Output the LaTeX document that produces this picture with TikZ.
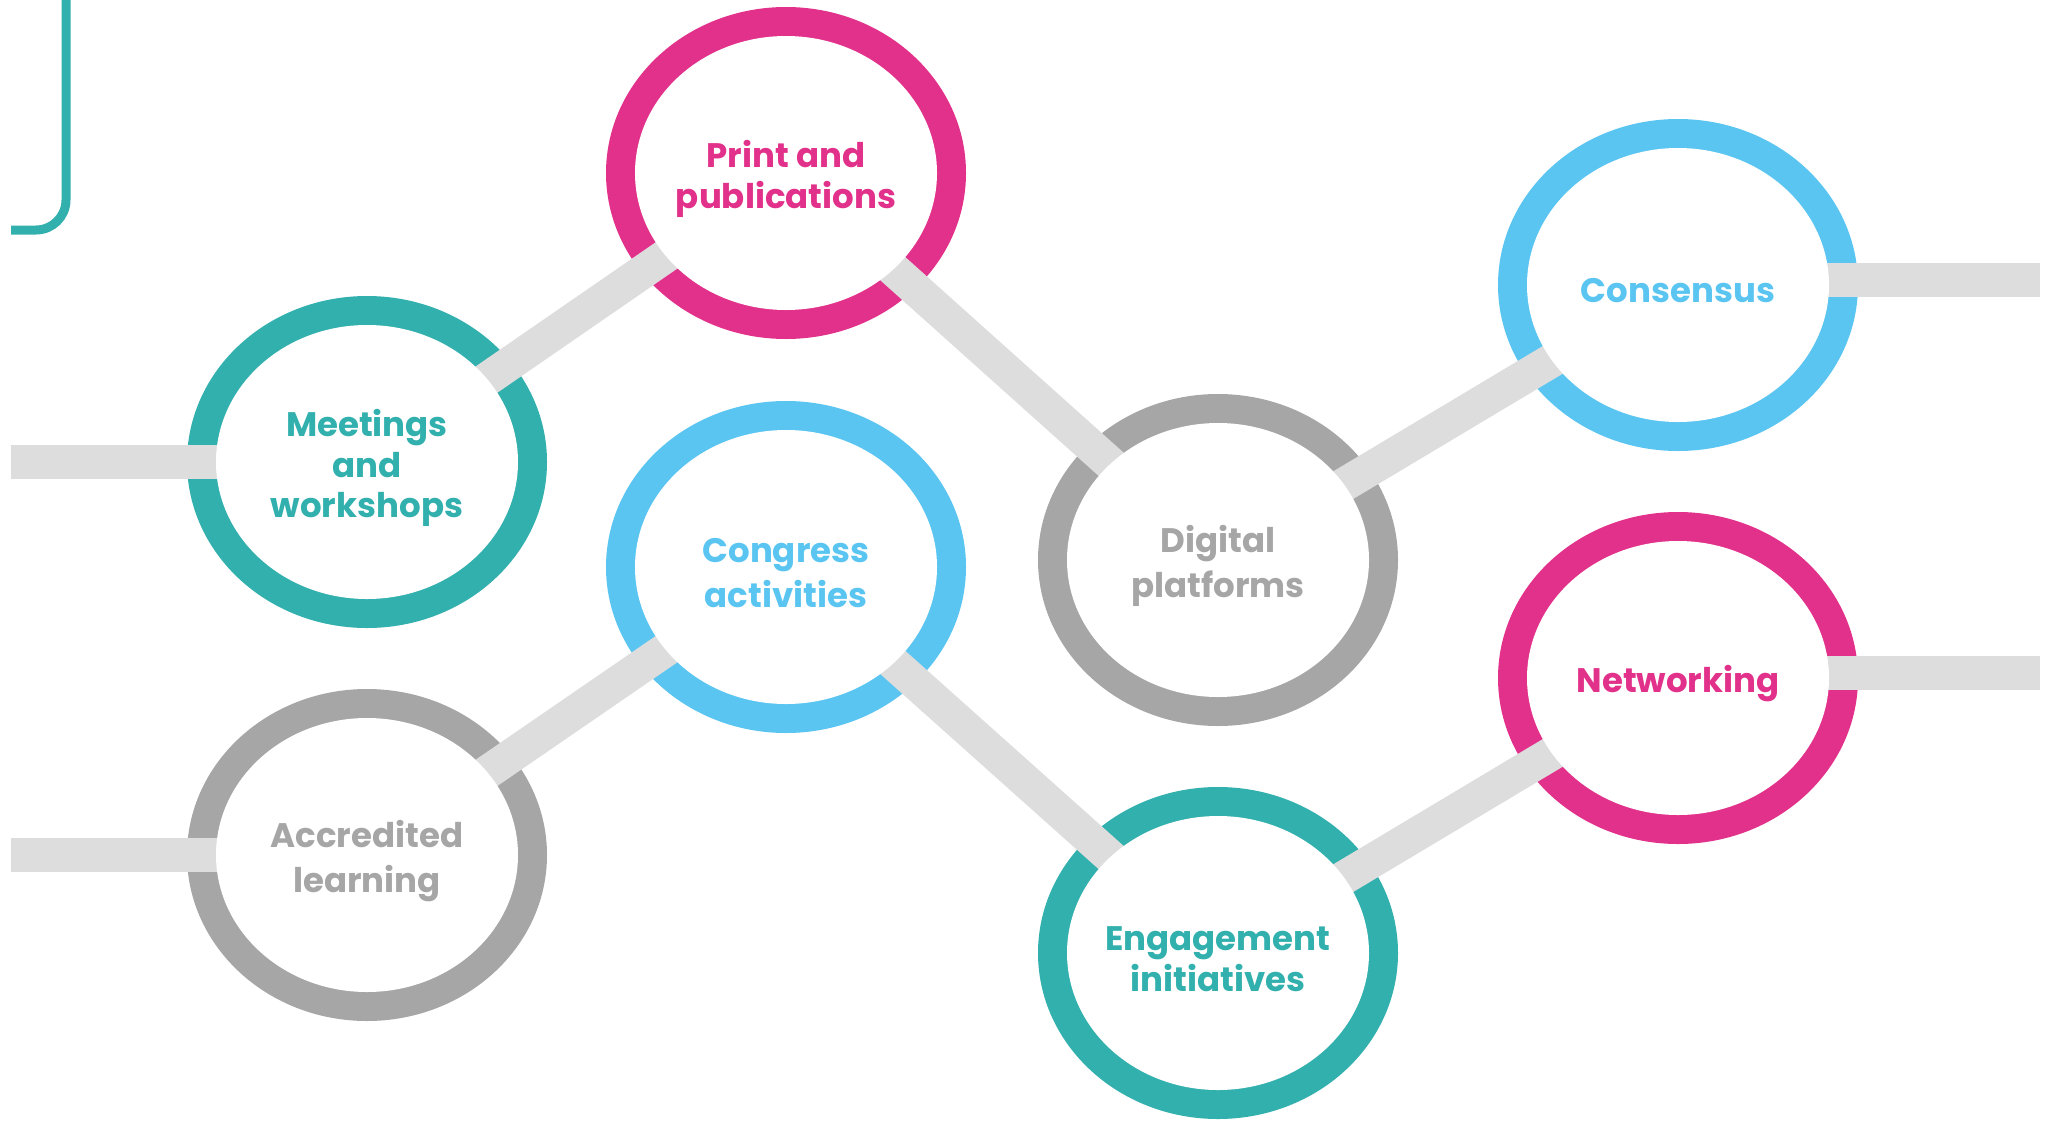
\documentclass[tikz,border=0pt]{standalone}
\usepackage{fontspec}
\newfontfamily\hubfont{Poppins}
\usetikzlibrary{shapes.geometric}

\definecolor{hubteal}{HTML}{31B0AE}
\definecolor{hubpink}{HTML}{E2318A}
\definecolor{hubblue}{HTML}{5BC5F2}
\definecolor{hubgray}{HTML}{A6A6A6}
\definecolor{barcol}{HTML}{DDDDDD}

\pgfdeclarelayer{rings}
\pgfdeclarelayer{bars}
\pgfsetlayers{rings,bars,main}

\tikzset{
  hub/.style={ellipse, fill=white, inner sep=0pt, minimum width=302pt, minimum height=274pt},
  hubtxt/.style={align=center, inner sep=0pt, yshift=-6pt, text=#1,
    font=\hubfont\bfseries\fontsize{34}{40.6}\selectfont},
  bar/.style={draw=barcol, line width=34pt}
}

\begin{document}
\begin{tikzpicture}[x=1pt,y=-1pt]
	\useasboundingbox (0,0) rectangle (2053,1120);

	\node[hub] (print) at (786,173) {};
	\node[hub] (meet) at (367,462) {};
	\node[hub] (cong) at (786,567) {};
	\node[hub] (accr) at (367,855) {};
	\node[hub] (digi) at (1218,560) {};
	\node[hub] (enga) at (1218,953) {};
	\node[hub] (cons) at (1678,285) {};
	\node[hub] (netw) at (1678,678) {};

	\node[hubtxt=hubpink] (printT) at (print) {Print and\\publications};
	\node[hubtxt=hubteal] (meetT) at (meet) {Meetings\\and\\workshops};
	\node[hubtxt=hubblue] (congT) at (cong) {Congress\\[5pt]activities};
	\node[hubtxt=hubgray] (accrT) at (accr) {Accredited\\[5pt]learning};
	\node[hubtxt=hubgray] (digiT) at (digi) {Digital\\[5pt]platforms};
	\node[hubtxt=hubteal] (engaT) at (enga) {Engagement\\initiatives};
	\node[hubtxt=hubblue] (consT) at (cons) {Consensus};
	\node[hubtxt=hubpink] (netwT) at (netw) {Networking};

	\coordinate (meetL) at (11,462);
	\coordinate (accrL) at (11,855);
	\coordinate (consR) at (2040,280);
	\coordinate (netwR) at (2040,673);

	\begin{pgfonlayer}{rings}
	\foreach \n/\c in {print/hubpink,meet/hubteal,cong/hubblue,accr/hubgray,
	                   digi/hubgray,enga/hubteal,cons/hubblue,netw/hubpink}{
	\fill[\c] (\n.center) ellipse (180pt and 166pt);
	}
	\end{pgfonlayer}

	\begin{pgfonlayer}{bars}
	\foreach \a/\b in {meet/print,print/digi,digi/cons,accr/cong,cong/enga,enga/netw}{
	\draw[bar] (\a.center) -- (\b.center);
	}
	\draw[bar] (meetL) -- (meet.center);
	\draw[bar] (accrL) -- (accr.center);
	\draw[bar] (consR) -- (consR -| cons.center);
	\draw[bar] (netwR) -- (netwR -| netw.center);
	\end{pgfonlayer}

	% bracket top left
	\draw[hubteal, line width=9pt, rounded corners=30pt] (66,-10) -- (66,230) -- (11,230);
\end{tikzpicture}
\end{document}
